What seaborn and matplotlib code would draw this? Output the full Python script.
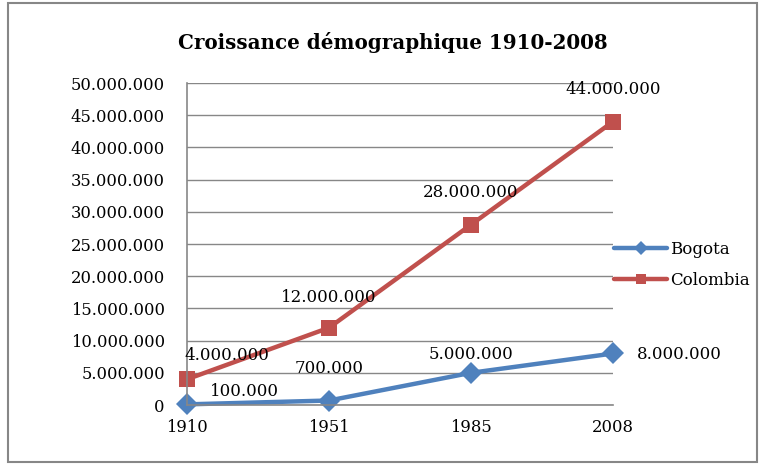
import matplotlib
matplotlib.use("Agg")
import matplotlib.pyplot as plt
import matplotlib.ticker as mticker
from matplotlib.patches import Rectangle
from matplotlib.lines import Line2D
import seaborn as sns
import pandas as pd

years = ["1910", "1951", "1985", "2008"]
bogota = [100000, 700000, 5000000, 8000000]
colombia = [4000000, 12000000, 28000000, 44000000]
series_names = ["Bogota", "Colombia"]
title = "Croissance démographique 1910-2008"

df = pd.DataFrame({"annee": years * 2,
                   "population": bogota + colombia,
                   "serie": [series_names[0]] * 4 + [series_names[1]] * 4})

sns.set_theme(style="white")
plt.rcParams["font.family"] = ["DejaVu Serif"]
plt.rcParams["text.color"] = "black"

fig = plt.figure(figsize=(7.68, 4.65), dpi=100)
ax = fig.add_axes([0.2435, 0.129, 0.5547, 0.6925])

palette = {"Bogota": "#4F81BD", "Colombia": "#C0504D"}
markers = {"Bogota": "D", "Colombia": "s"}
sns.lineplot(data=df, x="annee", y="population", hue="serie", style="serie",
             palette=palette, markers=markers, dashes=False, linewidth=3.2,
             markersize=11, markeredgewidth=0, sort=False, ax=ax, legend=False)
for ln in ax.lines:
    ln.set_clip_on(False)

ax.set_xlim(0, 3)
ax.set_ylim(0, 50000000)
ax.yaxis.set_major_locator(mticker.MultipleLocator(5000000))

def fmt_dots(v, pos=None):
    return f"{int(round(v)):,}".replace(",", ".")

ax.yaxis.set_major_formatter(mticker.FuncFormatter(fmt_dots))
ax.grid(axis="y", color="#878787", linewidth=1)
ax.set_axisbelow(True)
for s in ["top", "right"]:
    ax.spines[s].set_visible(False)
for s in ["left", "bottom"]:
    ax.spines[s].set_color("#878787")
    ax.spines[s].set_linewidth(1.2)
ax.tick_params(axis="both", which="both", length=6, width=1, color="#878787",
               direction="out", labelsize=11.8, labelcolor="black")
ax.tick_params(axis="y", pad=10)
ax.tick_params(axis="x", pad=4)
ax.set_xlabel("")
ax.set_ylabel("")

# data labels (offsets in points)
bogota_offsets = [(41, 9), (0, 23), (0, 13), (48, -1)]
colombia_offsets = [(29, 17), (0, 22), (0, 23), (0, 23)]
for i, v in enumerate(bogota):
    ax.annotate(fmt_dots(v), (i, v), xytext=bogota_offsets[i], textcoords="offset points",
                ha="center", va="center", fontsize=12, annotation_clip=False)
for i, v in enumerate(colombia):
    ax.annotate(fmt_dots(v), (i, v), xytext=colombia_offsets[i], textcoords="offset points",
                ha="center", va="center", fontsize=12, annotation_clip=False)

# legend
handles = [Line2D([], [], color=palette[n], marker=markers[n], linewidth=3.2,
                  markersize=7, markeredgewidth=0) for n in series_names]
fig.legend(handles, series_names, loc="center left", bbox_to_anchor=(0.7995, 0.43),
           frameon=False, fontsize=12, handlelength=3.2, handletextpad=0.15,
           labelspacing=0.85, borderaxespad=0, borderpad=0)

fig.text(0.512, 0.908, title, ha="center", va="center", fontsize=14.3, fontweight="bold")

fig.patches.append(Rectangle((8 / 768, 3 / 465), 749 / 768, 459 / 465, transform=fig.transFigure,
                             fill=False, edgecolor="#878787", linewidth=1.5))

fig.savefig("out.png", dpi=100)
